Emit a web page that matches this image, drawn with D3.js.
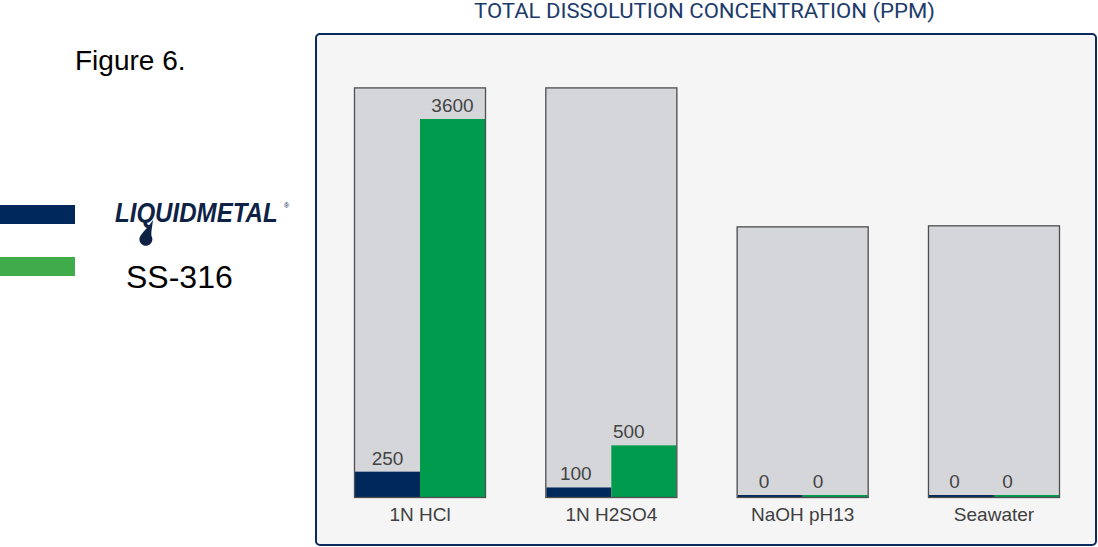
<!DOCTYPE html>
<html>
<head>
<meta charset="utf-8">
<script src="https://cdn.jsdelivr.net/npm/d3@7"></script>
<style>
  html, body { margin: 0; padding: 0; background: #ffffff; }
  svg { display: block; }
</style>
</head>
<body>
<svg id="chart" width="1098" height="547"></svg>
<script>
// ---- data ----
const categories = ["1N HCl", "1N H2SO4", "NaOH pH13", "Seawater"];
const seriesNames = ["LIQUIDMETAL", "SS-316"];
const liquidmetal = [250, 100, 0, 0];
const ss316 = [3600, 500, 0, 0];
const frameMax = [3900, 3900, 2580, 2590];   // grey backing box height, in ppm units
const yMax = 3600;

// ---- layout / style ----
const colors = { "LIQUIDMETAL": "#00285a", "SS-316": "#009b4c" };
const legendColors = { "LIQUIDMETAL": "#00285a", "SS-316": "#3fab4a" };
const labelNudge = {
  "1N H2SO4|LIQUIDMETAL": -3, "1N H2SO4|SS-316": -15,
  "NaOH pH13|LIQUIDMETAL": -6, "NaOH pH13|SS-316": -17,
  "Seawater|LIQUIDMETAL": -7, "Seawater|SS-316": -19
};

const svg = d3.select("#chart");

// panel
svg.append("rect")
  .attr("x", 316).attr("y", 34).attr("width", 780).attr("height", 511)
  .attr("rx", 4).attr("ry", 4)
  .attr("fill", "#f5f5f5").attr("stroke", "#0b2a5b").attr("stroke-width", 2);

// title
svg.append("text")
  .attr("x", 474).attr("y", 18)
  .attr("textLength", 461).attr("lengthAdjust", "spacingAndGlyphs")
  .attr("font-family", "Roboto, 'DejaVu Sans Condensed', sans-serif")
  .attr("font-weight", 400)
  .attr("font-size", 21).attr("fill", "#1d3b6b")
  .text("TOTAL DISSOLUTION CONCENTRATION (PPM)");

// Figure label
svg.append("text")
  .attr("x", 75).attr("y", 70)
  .attr("font-family", "'Liberation Sans', Arial, sans-serif")
  .attr("font-size", 28).attr("fill", "#000")
  .text("Figure 6.");

// scales
const x = d3.scaleBand().domain(categories).range([354, 1060]).paddingInner(0.31).paddingOuter(0);
const bw = x.bandwidth();
const xs = d3.scaleBand().domain(seriesNames).range([1, bw - 1]);
const y = d3.scaleLinear().domain([0, yMax]).range([498, 119]);

const rows = categories.map((c, i) => ({
  cat: c, frame: frameMax[i],
  vals: [{ s: "LIQUIDMETAL", v: liquidmetal[i] }, { s: "SS-316", v: ss316[i] }]
}));

const g = svg.append("g");
const groups = g.selectAll("g.grp").data(rows).join("g")
  .attr("class", "grp")
  .attr("transform", d => `translate(${x(d.cat)},0)`);

// grey backing fill
groups.append("rect")
  .attr("x", 0).attr("y", d => y(d.frame))
  .attr("width", bw).attr("height", d => y(0) - y(d.frame))
  .attr("fill", "#d5d6da");

// bars
groups.selectAll("rect.bar").data(d => d.vals.map(v => ({ ...v, cat: d.cat }))).join("rect")
  .attr("class", "bar")
  .attr("x", d => xs(d.s))
  .attr("width", xs.bandwidth())
  .attr("y", d => Math.min(y(d.v), y(0) - 3))
  .attr("height", d => Math.max(y(0) - y(d.v), 3) - 1)
  .attr("fill", d => colors[d.s]);

// grey backing outline
groups.append("rect")
  .attr("x", 0.5).attr("y", d => y(d.frame) + 0.5)
  .attr("width", bw - 1).attr("height", d => y(0) - y(d.frame) - 1)
  .attr("fill", "none").attr("stroke", "#4f4f52").attr("stroke-width", 1.3);

// value labels
groups.selectAll("text.val").data(d => d.vals.map(v => ({ ...v, cat: d.cat }))).join("text")
  .attr("class", "val")
  .attr("x", d => xs(d.s) + xs.bandwidth() / 2 + (labelNudge[d.cat + "|" + d.s] || 0))
  .attr("y", d => Math.min(y(d.v), y(0) - 3) - 7)
  .attr("text-anchor", "middle")
  .attr("font-family", "'Liberation Sans', Arial, sans-serif")
  .attr("font-size", 19).attr("fill", "#444")
  .text(d => d.v);

// category axis
const axis = svg.append("g").attr("transform", `translate(0,${y(0)})`)
  .call(d3.axisBottom(x).tickSize(0).tickPadding(0));
axis.select(".domain").remove();
axis.selectAll("text")
  .attr("y", 23).attr("dy", 0)
  .attr("font-family", "'Liberation Sans', Arial, sans-serif")
  .attr("font-size", 19).attr("fill", "#404040");

// legend
const legend = svg.append("g");
legend.append("rect").attr("x", 0).attr("y", 205).attr("width", 75).attr("height", 19)
  .attr("fill", legendColors["LIQUIDMETAL"]);
legend.append("rect").attr("x", 0).attr("y", 257).attr("width", 75).attr("height", 19)
  .attr("fill", legendColors["SS-316"]);

// LIQUIDMETAL logo-like text, horizontally condensed
legend.append("text")
  .attr("transform", "translate(115,222) scale(0.86,1)")
  .attr("font-family", "'Liberation Sans', Arial, sans-serif")
  .attr("font-weight", "bold").attr("font-style", "italic")
  .attr("font-size", 28).attr("fill", "#0e2245")
  .text(seriesNames[0]);
legend.append("text")
  .attr("x", 284).attr("y", 208)
  .attr("font-family", "'Liberation Sans', Arial, sans-serif")
  .attr("font-size", 7).attr("fill", "#0e2245")
  .text("®");
legend.append("path")
  .attr("d", "M153,220 C152,228 151,232 151.5,236 A6.5,6.5 0 1 1 139.5,238 C142,232 148,228 153,220 Z")
  .attr("fill", "#0e2245");

legend.append("text")
  .attr("x", 126).attr("y", 288)
  .attr("font-family", "'Liberation Sans', Arial, sans-serif")
  .attr("font-size", 32).attr("fill", "#000")
  .text(seriesNames[1]);
</script>
</body>
</html>
